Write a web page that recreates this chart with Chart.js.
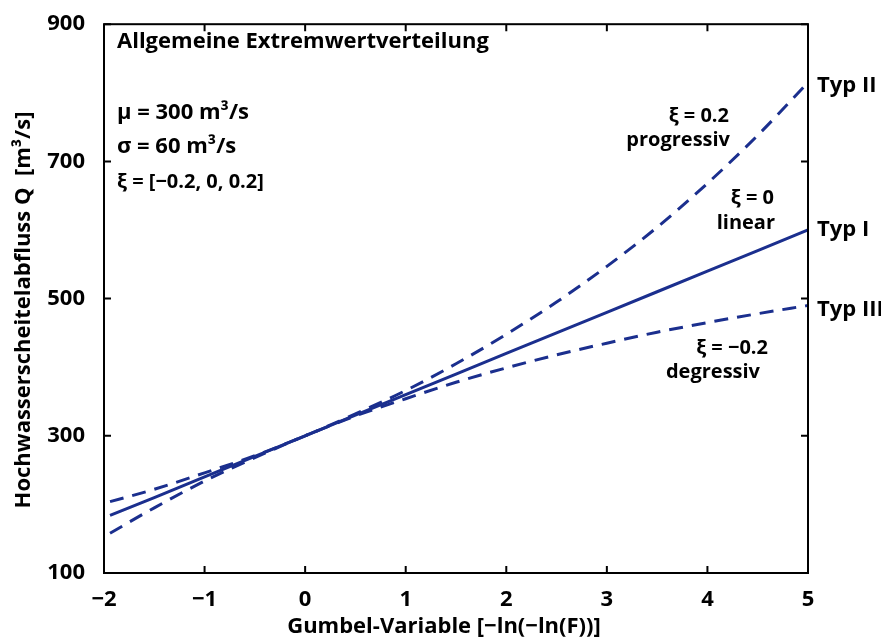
<!DOCTYPE html>
<html>
<head>
<meta charset="utf-8">
<script src="https://cdn.jsdelivr.net/npm/chart.js@4/dist/chart.umd.min.js"></script>
<style>
  body { margin: 0; background: #fff; }
</style>
</head>
<body>
<canvas id="myChart" width="881" height="644"></canvas>
<script>
// Gumbel variable and discharge values
var gumbelValues = [-1.94, -1.5, -1, -0.5, 0, 0.5, 1, 1.5, 2, 2.5, 3, 3.5, 4, 4.5, 5];
var linearValues = [184, 210, 240, 270, 300, 330, 360, 390, 420, 450, 480, 510, 540, 570, 600];
var progValues = [204, 222, 246, 271, 300, 332, 366, 405, 448, 495, 547, 604, 668, 738, 815];
var degValues = [158, 195, 234, 268, 300, 329, 354, 378, 399, 418, 435, 451, 465, 478, 490];
var xTicks = [-2, -1, 0, 1, 2, 3, 4, 5];
var yTicks = [100, 300, 500, 700, 900];

var lineColor = "#1b2f8e";
var font = "'Open Sans'";

function toPoints(values) {
    return gumbelValues.map(function (g, i) { return { x: g, y: values[i] }; });
}

function minus(v) {
    return String(v).replace("-", "\u2212");
}

// box, inward ticks and all the text
var decorations = {
    id: "decorations",
    afterDraw: function (chart) {
        var ctx = chart.ctx;
        var a = chart.chartArea;
        var xs = chart.scales.x, ys = chart.scales.y;
        ctx.save();
        ctx.strokeStyle = "#000";
        ctx.lineWidth = 2;
        ctx.strokeRect(a.left, a.top, a.right - a.left, a.bottom - a.top);
        ctx.beginPath();
        xTicks.forEach(function (t) {
            var px = xs.getPixelForValue(t);
            ctx.moveTo(px, a.bottom); ctx.lineTo(px, a.bottom - 7);
            ctx.moveTo(px, a.top); ctx.lineTo(px, a.top + 7);
        });
        yTicks.forEach(function (t) {
            var py = ys.getPixelForValue(t);
            ctx.moveTo(a.left, py); ctx.lineTo(a.left + 7, py);
            ctx.moveTo(a.right, py); ctx.lineTo(a.right - 7, py);
        });
        ctx.stroke();

        ctx.fillStyle = "#000";
        ctx.textBaseline = "middle";

        // axis titles
        ctx.font = "bold 22px " + font;
        ctx.textAlign = "center";
        ctx.fillText("Gumbel-Variable [\u2212ln(\u2212ln(F))]", 444, 627);
        ctx.save();
        ctx.translate(24, 310);
        ctx.rotate(-Math.PI / 2);
        ctx.fillText("Hochwasserscheitelabfluss Q  [m\u00b3/s]", 0, 0);
        ctx.restore();

        // description top left
        ctx.textAlign = "left";
        ctx.fillText("Allgemeine Extremwertverteilung", 117, 42);
        ctx.fillText("\u03bc = 300 m\u00b3/s", 117, 113);
        ctx.fillText("\u03c3 = 60 m\u00b3/s", 117, 147);
        ctx.font = "bold 20px " + font;
        ctx.fillText("\u03be = [\u22120.2, 0, 0.2]", 117, 182);

        // curve labels
        ctx.font = "bold 20px " + font;
        ctx.textAlign = "right";
        ctx.fillText("\u03be = 0.2", 729, 116);
        ctx.fillText("progressiv", 730, 140);
        ctx.fillText("\u03be = 0", 774, 198);
        ctx.fillText("linear", 775, 223);
        ctx.fillText("\u03be = \u22120.2", 768, 348);
        ctx.fillText("degressiv", 760, 372);

        // type labels at the curve ends
        ctx.font = "bold 22px " + font;
        ctx.textAlign = "left";
        var last = gumbelValues.length - 1;
        ctx.fillText("Typ II", 817, ys.getPixelForValue(progValues[last]) + 3);
        ctx.fillText("Typ I", 817, ys.getPixelForValue(linearValues[last]));
        ctx.fillText("Typ III", 817, ys.getPixelForValue(degValues[last]) + 4);
        ctx.restore();
    }
};

new Chart("myChart", {
    type: "scatter",
    data: {
        datasets: [{
            data: toPoints(linearValues),
            borderColor: lineColor,
            borderWidth: 3,
            showLine: true,
            pointRadius: 0,
            fill: false
        }, {
            data: toPoints(progValues),
            borderColor: lineColor,
            borderWidth: 3,
            borderDash: [14, 9],
            showLine: true,
            pointRadius: 0,
            cubicInterpolationMode: "monotone",
            fill: false
        }, {
            data: toPoints(degValues),
            borderColor: lineColor,
            borderWidth: 3,
            borderDash: [14, 9],
            showLine: true,
            pointRadius: 0,
            cubicInterpolationMode: "monotone",
            fill: false
        }]
    },
    options: {
        responsive: false,
        animation: false,
        layout: { padding: { left: 0, right: 73, top: 16, bottom: 0 } },
        plugins: {
            legend: { display: false },
            tooltip: { enabled: false }
        },
        scales: {
            x: {
                type: "linear",
                min: -2,
                max: 5,
                grid: { display: false },
                border: { display: false },
                afterFit: function (scale) { scale.height = 71; },
                afterBuildTicks: function (scale) {
                    scale.ticks = xTicks.map(function (v) { return { value: v }; });
                },
                ticks: {
                    padding: 6,
                    color: "#000",
                    font: { family: font, size: 22, weight: "bold" },
                    maxRotation: 0,
                    callback: function (v) { return minus(v); }
                }
            },
            y: {
                min: 100,
                max: 900,
                grid: { display: false },
                border: { display: false },
                afterFit: function (scale) { scale.width = 104; },
                afterBuildTicks: function (scale) {
                    scale.ticks = yTicks.map(function (v) { return { value: v }; });
                },
                ticks: {
                    padding: 11,
                    color: "#000",
                    font: { family: font, size: 22, weight: "bold" },
                    callback: function (v) { return minus(v); }
                }
            }
        }
    },
    plugins: [decorations]
});
</script>
</body>
</html>
